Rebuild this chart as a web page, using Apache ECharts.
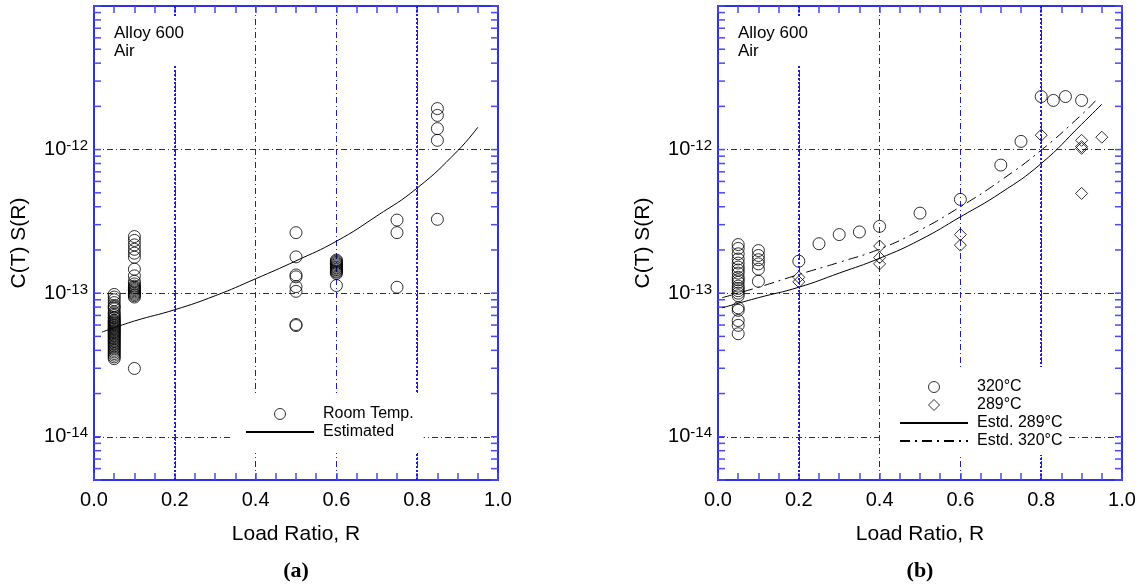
<!DOCTYPE html>
<html>
<head>
<meta charset="utf-8">
<script src="https://cdn.jsdelivr.net/npm/echarts@6/dist/echarts.min.js"></script>
<style>
  html, body { margin: 0; padding: 0; background: #fff; }
  #main { width: 1143px; height: 587px; }
</style>
</head>
<body>
<div id="main"></div>
<script>
// (a) room temperature data, [R, C(T)S(R)]
const roomTemp = [
  [0.05, 9.8e-14], [0.05, 9.4e-14], [0.05, 9.0e-14], [0.05, 8.6e-14], [0.05, 8.2e-14],
  [0.05, 8.0e-14], [0.05, 7.8e-14], [0.05, 7.4e-14], [0.05, 7.2e-14], [0.05, 7.0e-14],
  [0.05, 6.8e-14], [0.05, 6.7e-14], [0.05, 6.5e-14], [0.05, 6.4e-14], [0.05, 6.3e-14],
  [0.05, 6.2e-14], [0.05, 6.1e-14], [0.05, 6.0e-14], [0.05, 5.9e-14], [0.05, 5.8e-14],
  [0.05, 5.7e-14], [0.05, 5.6e-14], [0.05, 5.5e-14], [0.05, 5.4e-14], [0.05, 5.3e-14],
  [0.05, 5.2e-14], [0.05, 5.1e-14], [0.05, 5.0e-14], [0.05, 4.9e-14], [0.05, 4.8e-14],
  [0.05, 4.7e-14], [0.05, 4.6e-14], [0.05, 4.5e-14], [0.05, 4.4e-14], [0.05, 4.3e-14],
  [0.05, 4.2e-14], [0.05, 4.1e-14], [0.05, 4.0e-14], [0.05, 3.9e-14], [0.05, 3.8e-14],
  [0.05, 3.7e-14], [0.05, 3.6e-14], [0.05, 3.5e-14],
  [0.1, 2.48e-13], [0.1, 2.33e-13], [0.1, 2.17e-13], [0.1, 2.02e-13], [0.1, 1.90e-13],
  [0.1, 1.78e-13], [0.1, 1.47e-13], [0.1, 1.32e-13], [0.1, 1.21e-13], [0.1, 1.16e-13],
  [0.1, 1.12e-13], [0.1, 1.10e-13], [0.1, 1.08e-13], [0.1, 1.06e-13], [0.1, 1.04e-13],
  [0.1, 1.02e-13], [0.1, 1.0e-13], [0.1, 9.8e-14], [0.1, 9.6e-14], [0.1, 9.4e-14],
  [0.1, 2.99e-14],
  [0.5, 2.64e-13], [0.5, 1.79e-13], [0.5, 1.34e-13], [0.5, 1.30e-13], [0.5, 1.11e-13],
  [0.5, 1.03e-13], [0.5, 6.05e-14], [0.5, 5.95e-14],
  [0.6, 1.70e-13], [0.6, 1.67e-13], [0.6, 1.64e-13], [0.6, 1.61e-13], [0.6, 1.58e-13],
  [0.6, 1.55e-13], [0.6, 1.52e-13], [0.6, 1.50e-13], [0.6, 1.47e-13], [0.6, 1.45e-13],
  [0.6, 1.42e-13], [0.6, 1.40e-13], [0.6, 1.37e-13], [0.6, 1.13e-13],
  [0.75, 3.23e-13], [0.75, 2.64e-13], [0.75, 1.10e-13],
  [0.85, 1.93e-12], [0.85, 1.73e-12], [0.85, 1.40e-12], [0.85, 1.16e-12], [0.85, 3.27e-13]
]
const estR = [0.02, 0.1, 0.2, 0.3, 0.4, 0.5, 0.6, 0.7, 0.8, 0.9, 0.95]
const estC = [5.36e-14, 6.4e-14, 7.67e-14, 9.6e-14, 1.26e-13, 1.68e-13, 2.3e-13, 3.45e-13, 5.4e-13, 9.8e-13, 1.43e-12]

// (b) 320°C circles and 289°C diamonds
const t320 = [
  [0.05, 2.18e-13], [0.05, 2.05e-13], [0.05, 1.88e-13], [0.05, 1.73e-13], [0.05, 1.62e-13],
  [0.05, 1.52e-13], [0.05, 1.45e-13], [0.05, 1.38e-13], [0.05, 1.29e-13], [0.05, 1.24e-13],
  [0.05, 1.19e-13], [0.05, 1.12e-13], [0.05, 1.08e-13], [0.05, 1.04e-13], [0.05, 1.0e-13],
  [0.05, 9.6e-14], [0.05, 7.9e-14], [0.05, 7.6e-14], [0.05, 6.45e-14], [0.05, 5.97e-14],
  [0.05, 5.22e-14],
  [0.1, 1.98e-13], [0.1, 1.83e-13], [0.1, 1.71e-13], [0.1, 1.60e-13], [0.1, 1.47e-13], [0.1, 1.21e-13],
  [0.2, 1.67e-13], [0.25, 2.21e-13], [0.3, 2.56e-13], [0.35, 2.67e-13], [0.4, 2.92e-13],
  [0.5, 3.61e-13], [0.6, 4.5e-13], [0.7, 7.8e-13], [0.75, 1.14e-12], [0.8, 2.34e-12],
  [0.83, 2.2e-12], [0.86, 2.34e-12], [0.9, 2.2e-12]
]
const t289 = [
  [0.2, 1.29e-13], [0.2, 1.2e-13],
  [0.4, 2.13e-13], [0.4, 1.77e-13], [0.4, 1.6e-13],
  [0.6, 2.56e-13], [0.6, 2.16e-13],
  [0.8, 1.26e-12],
  [0.9, 1.16e-12], [0.9, 1.05e-12], [0.9, 1.02e-12], [0.9, 4.95e-13],
  [0.95, 1.22e-12]
]
const est289R = [0.01, 0.1, 0.2, 0.3, 0.4, 0.5, 0.6, 0.7, 0.8, 0.9, 0.95]
const est289C = [7.9e-14, 9.3e-14, 1.10e-13, 1.38e-13, 1.75e-13, 2.35e-13, 3.4e-13, 5.0e-13, 8.0e-13, 1.5e-12, 2.07e-12]
const est320R = [0.01, 0.1, 0.2, 0.3, 0.4, 0.5, 0.6, 0.7, 0.8, 0.9, 0.935]
const est320C = [9.3e-14, 1.1e-13, 1.35e-13, 1.64e-13, 2.03e-13, 2.75e-13, 4.0e-13, 6.1e-13, 9.9e-13, 1.75e-12, 2.2e-12]

// axes
const yMin = 5e-15
const yMax = 1e-11
const xTicks = [0, 0.2, 0.4, 0.6, 0.8, 1.0]
const thickGrid = [0.2, 0.8]
const yTickVals = []
for (let e = -15; e <= -11; e++) {
  for (let m = 1; m <= 9; m++) {
    const v = m * Math.pow(10, e)
    if (v >= yMin * 0.999 && v <= yMax * 1.001) yTickVals.push(v)
  }
}

const FONT = '"Liberation Sans", Arial, sans-serif'
const BLUE = '#2f2ff0'
const GRID_BLUE = '#1c1cd8'
const TICK_BLUE = '#4a4af0'

const chart = echarts.init(document.getElementById('main'))

const pair = (xs, ys) => xs.map((x, i) => [x, ys[i]])

const xAxisFor = (gridIndex, top) => ({
  type: 'value',
  gridIndex: gridIndex,
  position: top ? 'top' : 'bottom',
  min: xTicks[0],
  max: xTicks[xTicks.length - 1],
  interval: 0.2,
  axisLine: { show: true, onZero: false, lineStyle: { color: BLUE, width: 2 } },
  axisTick: { show: true, inside: true, length: 7, lineStyle: { color: TICK_BLUE, width: 1.5 } },
  minorTick: { show: true, splitNumber: 4, length: 7, lineStyle: { color: TICK_BLUE, width: 1.5 } },
  axisLabel: top ? { show: false } : {
    show: true, margin: 10, fontSize: 20, fontFamily: FONT, color: '#000',
    formatter: v => v.toFixed(1)
  },
  splitLine: top ? { show: false } : { show: true, lineStyle: { color: GRID_BLUE, width: 1, type: [6, 3, 1, 3] } },
  name: top ? '' : 'Load Ratio, R',
  nameLocation: 'middle',
  nameGap: 44,
  nameTextStyle: { fontSize: 21, fontFamily: FONT, color: '#000' }
})

const yAxisFor = (gridIndex, right) => ({
  type: 'log',
  logBase: 10,
  gridIndex: gridIndex,
  position: right ? 'right' : 'left',
  min: yMin,
  max: yMax,
  axisLine: { show: true, onZero: false, lineStyle: { color: BLUE, width: 2 } },
  axisTick: { show: false },
  axisLabel: right ? { show: false } : {
    show: true, margin: 6, fontFamily: FONT, color: '#000',
    formatter: v => {
      const lg = Math.log10(v)
      const e = Math.round(lg)
      if (Math.abs(lg - e) > 1e-6 || e >= -11) return ''
      return '{b|10}{s|' + e + '}'
    },
    rich: {
      b: { fontSize: 20, lineHeight: 22, fontFamily: FONT, color: '#000' },
      s: { fontSize: 15, lineHeight: 15, verticalAlign: 'top', fontFamily: FONT, color: '#000' }
    }
  },
  splitLine: right ? { show: false } : { show: true, lineStyle: { color: GRID_BLUE, width: 1, type: [6, 3, 1, 3] } },
  name: right ? '' : 'C(T) S(R)',
  nameLocation: 'middle',
  nameGap: 64,
  nameTextStyle: { fontSize: 21, fontFamily: FONT, color: '#000' }
})

const hollow = { color: 'rgba(0,0,0,0)', borderColor: '#000', borderWidth: 1 }
// line entries in the legends show only their line, no marker
const lineOnly = { color: 'rgba(0,0,0,0)', borderWidth: 0 }

const tickSeries = (axisIndex) => ({
  type: 'custom',
  xAxisIndex: axisIndex,
  yAxisIndex: axisIndex,
  silent: true,
  z: 1,
  data: yTickVals.map(v => [0, v]),
  renderItem: (params, api) => {
    const cs = params.coordSys
    const p = api.coord([0, api.value(1)])
    const len = 7
    const st = { stroke: TICK_BLUE, lineWidth: 1.5 }
    return {
      type: 'group',
      children: [
        { type: 'line', shape: { x1: cs.x, y1: p[1], x2: cs.x + len, y2: p[1] }, style: st },
        { type: 'line', shape: { x1: cs.x + cs.width - len, y1: p[1], x2: cs.x + cs.width, y2: p[1] }, style: st }
      ]
    }
  },
  markLine: {
    silent: true,
    symbol: 'none',
    label: { show: false },
    lineStyle: { color: GRID_BLUE, width: 2, type: [2, 2] },
    data: thickGrid.map(v => ({ xAxis: v }))
  }
})

const legendBase = {
  orient: 'vertical',
  itemGap: 2,
  itemHeight: 11,
  itemWidth: 68,
  backgroundColor: '#fff',
  selectedMode: false,
  z: 10,
  itemStyle: { borderWidth: 1 },
  textStyle: { fontSize: 16, lineHeight: 16, fontFamily: FONT, color: '#000', padding: [0, 0, 0, 4] }
}

const option = {
  animation: false,
  backgroundColor: '#fff',
  grid: [
    { left: 94, top: 6, width: 404, height: 474 },
    { left: 718, top: 6, width: 404, height: 474 }
  ],
  xAxis: [xAxisFor(0, false), xAxisFor(0, true), xAxisFor(1, false), xAxisFor(1, true)],
  yAxis: [yAxisFor(0, false), yAxisFor(0, true), yAxisFor(1, false), yAxisFor(1, true)],
  legend: [
    Object.assign({}, legendBase, {
      data: ['Room Temp.', { name: 'Estimated', itemStyle: lineOnly }],
      left: 231, top: 393,
      padding: [13, 10, 13, 14]
    }),
    Object.assign({}, legendBase, {
      data: [
        '320°C',
        { name: '289°C', icon: 'path://M0,-1L1,0L0,1L-1,0Z' },
        { name: 'Estd. 289°C', itemStyle: lineOnly },
        { name: 'Estd. 320°C', itemStyle: lineOnly }
      ],
      left: 880, top: 367,
      padding: [12, 6, 6, 19]
    })
  ],
  graphic: [
    {
      type: 'text', x: 104, y: 16, z: 100,
      style: { text: 'Alloy 600\nAir', font: '17px ' + FONT, fill: '#000', lineHeight: 17.5, backgroundColor: '#fff', padding: [9, 8, 5, 10] }
    },
    {
      type: 'text', x: 728, y: 16, z: 100,
      style: { text: 'Alloy 600\nAir', font: '17px ' + FONT, fill: '#000', lineHeight: 17.5, backgroundColor: '#fff', padding: [9, 8, 5, 10] }
    },
    {
      type: 'text', x: 296, y: 571, z: 100,
      style: { text: '(a)', font: 'bold 22px "Liberation Serif", serif', fill: '#000', align: 'center', verticalAlign: 'middle' }
    },
    {
      type: 'text', x: 920, y: 571, z: 100,
      style: { text: '(b)', font: 'bold 22px "Liberation Serif", serif', fill: '#000', align: 'center', verticalAlign: 'middle' }
    }
  ],
  series: [
    {
      name: 'Room Temp.', type: 'scatter', xAxisIndex: 0, yAxisIndex: 0,
      symbol: 'circle', symbolSize: 12, itemStyle: hollow, data: roomTemp
    },
    {
      name: 'Estimated', type: 'line', xAxisIndex: 0, yAxisIndex: 0,
      symbol: 'none', smooth: true, lineStyle: { color: '#000', width: 1 },
      itemStyle: { color: '#000' }, data: pair(estR, estC)
    },
    {
      name: '320°C', type: 'scatter', xAxisIndex: 2, yAxisIndex: 2,
      symbol: 'circle', symbolSize: 12, itemStyle: hollow, data: t320
    },
    {
      name: '289°C', type: 'scatter', xAxisIndex: 2, yAxisIndex: 2,
      symbol: 'diamond', symbolSize: 12, itemStyle: hollow, data: t289
    },
    {
      name: 'Estd. 289°C', type: 'line', xAxisIndex: 2, yAxisIndex: 2,
      symbol: 'none', smooth: true, lineStyle: { color: '#000', width: 1 },
      itemStyle: { color: '#000' }, data: pair(est289R, est289C)
    },
    {
      name: 'Estd. 320°C', type: 'line', xAxisIndex: 2, yAxisIndex: 2,
      symbol: 'none', smooth: true, lineStyle: { color: '#000', width: 1, type: [10, 5, 2, 5] },
      itemStyle: { color: '#000' }, data: pair(est320R, est320C)
    },
    tickSeries(0),
    tickSeries(2)
  ]
}

chart.setOption(option)
</script>
</body>
</html>
